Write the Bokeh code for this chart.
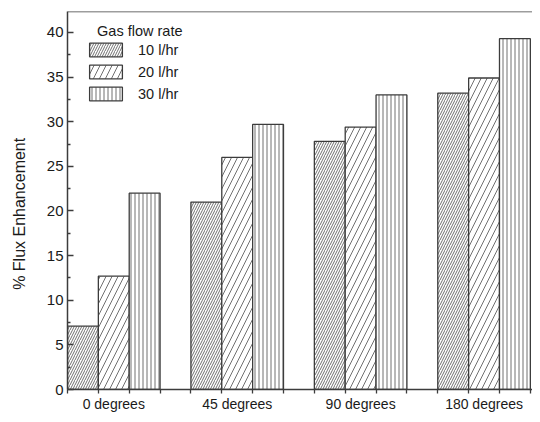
import math
from bokeh.plotting import figure
from bokeh.models import (FixedTicker, Legend, LegendItem, Span, Range1d)
from bokeh.embed import file_html
from bokeh.resources import INLINE

# ---- data ----
categories = ["0 degrees", "45 degrees", "90 degrees", "180 degrees"]
series_names = ["10 l/hr", "20 l/hr", "30 l/hr"]
flux_10 = [7.1, 21.0, 27.8, 33.2]
flux_20 = [12.7, 26.0, 29.4, 34.9]
flux_30 = [22.0, 29.7, 33.0, 39.3]
y_ticks = [0, 5, 10, 15, 20, 25, 30, 35, 40]
legend_title = "Gas flow rate"
y_title = "% Flux Enhancement"

series_values = [flux_10, flux_20, flux_30]
hatch_patterns = ["right_diagonal_line", "right_diagonal_line", "vertical_line"]
hatch_scales = [5, 12, 4]

FONT = "Liberation Sans"
DARK = "#3c3c3c"
NBSP = "\u00a0"

n_series = len(series_names)
group_step = n_series + 1
Y_END = 42.35
X_END = group_step * len(categories) - 0.93

p = figure(width=532, height=414, output_backend="svg", toolbar_location=None,
           x_range=Range1d(0, X_END), y_range=Range1d(0, Y_END),
           min_border_left=67, min_border_right=0, min_border_top=11,
           min_border_bottom=0)
p.outline_line_color = None
p.grid.visible = False
p.background_fill_color = "white"
p.border_fill_color = "white"

renderers = []
for s in range(n_series):
    xs = [g * group_step + s + 0.5 for g in range(len(categories))]
    r = p.vbar(x=xs, top=series_values[s], width=1.0, bottom=0,
               fill_color="white", line_color=DARK, line_width=1.3,
               hatch_pattern=hatch_patterns[s], hatch_scale=hatch_scales[s],
               hatch_color="#606060", hatch_weight=0.9)
    renderers.append(r)

# top frame line
p.add_layout(Span(location=Y_END, dimension="width", line_color=DARK, line_width=1.5))

# x axis
centers = [g * group_step + (n_series) / 2.0 for g in range(len(categories))]
xa = p.xaxis[0]
xa.ticker = FixedTicker(ticks=centers,
                        minor_ticks=list(range(0, group_step * len(categories))))
xa.major_label_overrides = {c: lab for c, lab in zip(centers, categories)}
xa.major_tick_in = 0
xa.major_tick_out = 0
xa.minor_tick_in = 0
xa.minor_tick_out = 4
xa.minor_tick_line_color = DARK
xa.minor_tick_line_width = 1.3
xa.axis_line_color = DARK
xa.axis_line_width = 1.5
xa.major_label_text_font = FONT
xa.major_label_text_font_size = "14px"
xa.major_label_text_color = "#1a1a1a"
xa.major_label_standoff = 2
xa.axis_label = None
xa.axis_label_standoff = 0

# y axis
ya = p.yaxis[0]
ya.ticker = FixedTicker(ticks=y_ticks,
                        minor_ticks=[t + 2.5 for t in y_ticks])
ya.major_tick_in = 6
ya.major_tick_out = 0
ya.minor_tick_in = 3
ya.minor_tick_out = 0
ya.major_tick_line_color = DARK
ya.minor_tick_line_color = DARK
ya.major_tick_line_width = 1.3
ya.minor_tick_line_width = 1.3
ya.axis_line_color = DARK
ya.axis_line_width = 1.5
ya.major_label_text_font = FONT
ya.major_label_text_font_size = "15px"
ya.major_label_text_color = "#1a1a1a"
ya.major_label_standoff = 4
ya.axis_label = y_title + NBSP * 6
ya.axis_label_text_font = FONT
ya.axis_label_text_font_size = "16px"
ya.axis_label_text_font_style = "normal"
ya.axis_label_text_color = "#1a1a1a"
ya.axis_label_standoff = 16

legend = Legend(items=[LegendItem(label=series_names[i], renderers=[renderers[i]])
                       for i in range(n_series)],
                title=NBSP * 3 + legend_title, location=(18, 287))
legend.margin = 0
legend.padding = 0
legend.border_line_color = None
legend.background_fill_alpha = 0
legend.title_text_font = FONT
legend.title_text_font_size = "14.5px"
legend.title_text_font_style = "normal"
legend.title_text_color = "#1a1a1a"
legend.title_standoff = 2
legend.label_text_font = FONT
legend.label_text_font_size = "14.5px"
legend.label_text_color = "#1a1a1a"
legend.glyph_width = 41
legend.glyph_height = 17
legend.label_height = 17
legend.label_standoff = 12
legend.spacing = 5
p.add_layout(legend, "center")

open("out.html", "w").write(file_html(p, INLINE))
